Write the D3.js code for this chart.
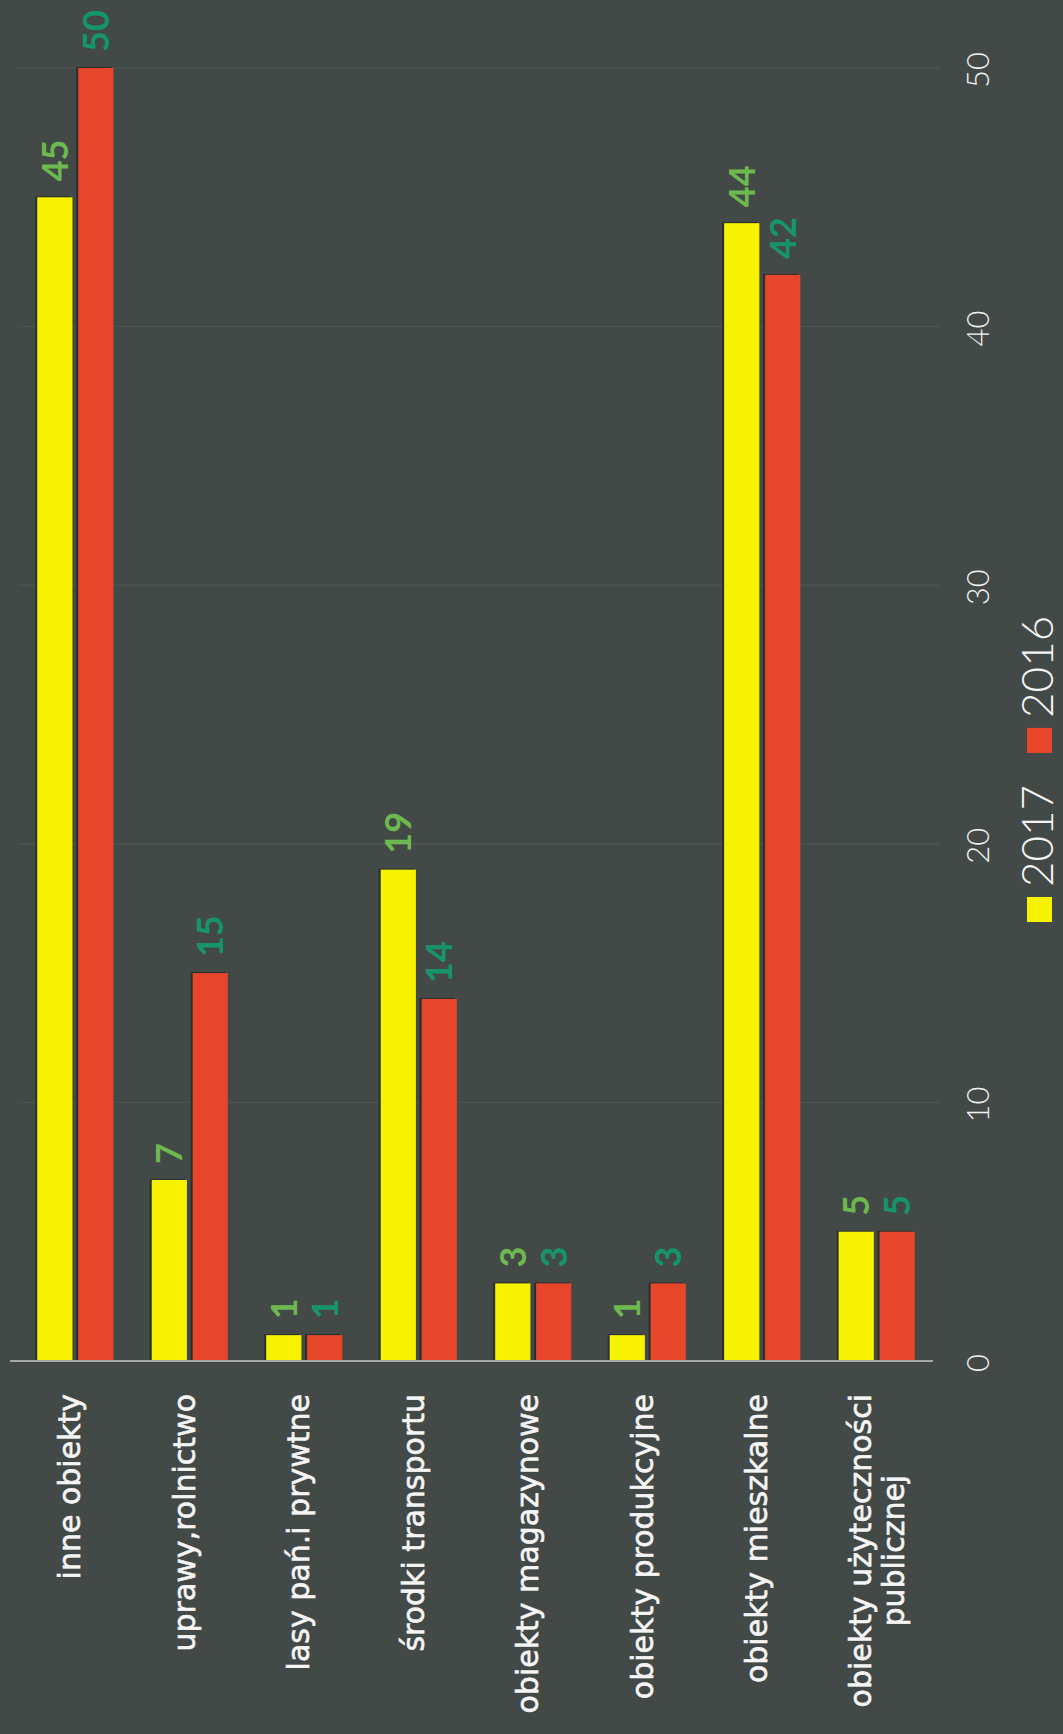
<!DOCTYPE html>
<html>
<head>
<meta charset="utf-8">
<script src="https://cdn.jsdelivr.net/npm/d3@7"></script>
<style>
  html, body { margin: 0; padding: 0; background: #434947; }
  svg { display: block; }
</style>
</head>
<body>
<svg id="chart" width="1063" height="1734"></svg>
<script>
const categories = [
  "inne obiekty",
  "uprawy,rolnictwo",
  "lasy pań.i prywtne",
  "środki transportu",
  "obiekty magazynowe",
  "obiekty produkcyjne",
  "obiekty mieszkalne",
  "obiekty użyteczności\npublicznej"
];
const seriesNames = ["2017", "2016"];
const values2017 = [45, 7, 1, 19, 3, 1, 44, 5];
const values2016 = [50, 15, 1, 14, 3, 3, 42, 5];
const tickValues = [0, 10, 20, 30, 40, 50];

const colors = { "2017": "#f7f200", "2016": "#e8462b" };
const labelColors = { "2017": "#6db84f", "2016": "#16946a" };

const svg = d3.select("#chart");
const W = 1063, H = 1734;
svg.append("rect").attr("width", W).attr("height", H).attr("fill", "#434947");

const x0 = d3.scaleBand().domain(categories).range([18, 934]).paddingInner(0.335).paddingOuter(0.168);
const x1 = d3.scaleBand().domain(seriesNames).range([0, x0.bandwidth()]).paddingInner(0.14);
const y = d3.scaleLinear().domain([0, 50]).range([1361, 68]);

// gridlines
svg.append("g").selectAll("line").data(tickValues.filter(v => v > 0)).join("line")
  .attr("x1", 18).attr("x2", 940)
  .attr("y1", d => y(d)).attr("y2", d => y(d))
  .attr("stroke", "rgba(255,255,255,0.055)").attr("stroke-width", 1.5);

// tick labels (rotated)
svg.append("g").selectAll("text").data(tickValues).join("text")
  .attr("transform", d => `translate(978,${y(d) + 2}) rotate(-90)`)
  .attr("text-anchor", "middle")
  .attr("dy", "0.35em")
  .attr("font-family", "Lato, 'DejaVu Sans', sans-serif")
  .attr("font-weight", 300)
  .attr("font-size", 31)
  .attr("fill", "#f2f2f2")
  .text(d => d);

// bars
const data = categories.map((c, i) => ({ cat: c, vals: [
  { key: "2017", value: values2017[i] },
  { key: "2016", value: values2016[i] }
]}));

const groups = svg.append("g").selectAll("g").data(data).join("g")
  .attr("transform", d => `translate(${x0(d.cat)},0)`);

// shadow
groups.selectAll("rect.sh").data(d => d.vals).join("rect")
  .attr("class", "sh")
  .attr("x", d => x1(d.key) - 2)
  .attr("y", d => y(d.value) - 1)
  .attr("width", x1.bandwidth())
  .attr("height", d => y(0) - y(d.value) + 1)
  .attr("fill", "#2a2e2d");

groups.selectAll("rect.bar").data(d => d.vals).join("rect")
  .attr("class", "bar")
  .attr("x", d => x1(d.key))
  .attr("y", d => y(d.value))
  .attr("width", x1.bandwidth())
  .attr("height", d => y(0) - y(d.value))
  .attr("fill", d => colors[d.key]);

// value labels
groups.selectAll("text.val").data(d => d.vals).join("text")
  .attr("class", "val")
  .attr("transform", d => `translate(${x1(d.key) + x1.bandwidth() / 2},${y(d.value) - 16}) rotate(-90)`)
  .attr("text-anchor", "start")
  .attr("dy", "0.36em")
  .attr("font-family", "Lato, 'DejaVu Sans', sans-serif")
  .attr("font-weight", 700)
  .attr("font-size", 36)
  .attr("fill", d => labelColors[d.key])
  .text(d => d.value);

// baseline axis
svg.append("line")
  .attr("x1", 10).attr("x2", 933)
  .attr("y1", y(0)).attr("y2", y(0))
  .attr("stroke", "#a3a7a5").attr("stroke-width", 2);

// category labels (rotated, reading bottom to top)
const lineH = 33;
const catG = svg.append("g");
categories.forEach(c => {
  const lines = c.split("\n");
  const n = lines.length;
  const cx = x0(c) + x0.bandwidth() / 2;
  const firstBase = cx + 5 - (n - 1) * 10.5;
  const probe = catG.append("text")
    .attr("font-family", "'DejaVu Sans', sans-serif")
    .attr("font-size", 30)
    .text(lines[0]);
  const L = probe.node().getComputedTextLength();
  probe.remove();
  const top = 1394;
  lines.forEach((ln, i) => {
    const ax = firstBase + i * lineH;
    catG.append("text")
      .attr("transform", n === 1
        ? `translate(${ax},${top}) rotate(-90)`
        : `translate(${ax},${top + L / 2}) rotate(-90)`)
      .attr("text-anchor", n === 1 ? "end" : "middle")
      .attr("font-family", "'DejaVu Sans', sans-serif")
      .attr("font-size", 30)
      .attr("fill", "#f5f5f5")
      .attr("stroke", "#f5f5f5")
      .attr("stroke-width", 0.6)
      .text(ln);
  });
});

// legend (rotated)
const legend = svg.append("g");
let cursor = 922; // bottom edge
const sq = 25;
const legX = 1027;
seriesNames.forEach(s => {
  legend.append("rect")
    .attr("x", legX).attr("y", cursor - sq)
    .attr("width", sq).attr("height", sq)
    .attr("fill", colors[s]);
  cursor -= sq + 10;
  const txt = legend.append("text")
    .attr("transform", `translate(1053,${cursor}) rotate(-90)`)
    .attr("text-anchor", "start")
    .attr("font-family", "Lato, 'DejaVu Sans', sans-serif")
    .attr("font-weight", 300)
    .attr("font-size", 44)
    .attr("fill", "#f5f5f5")
    .text(s);
  const len = txt.node().getComputedTextLength();
  cursor -= len + 32;
});
</script>
</body>
</html>
